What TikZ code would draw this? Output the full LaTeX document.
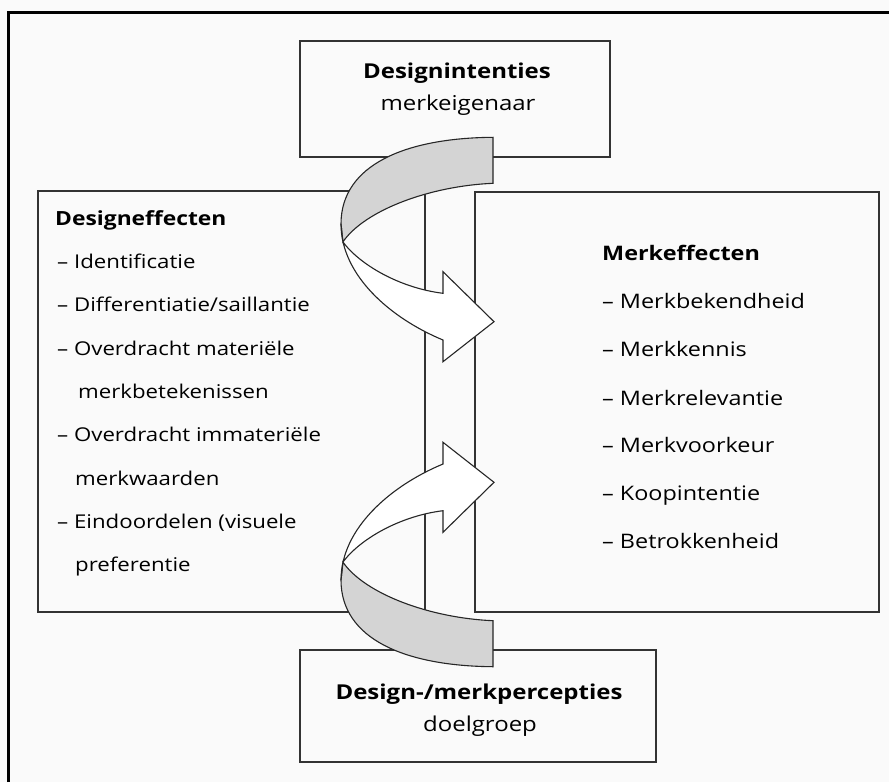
\documentclass[tikz,border=0pt]{standalone}
\usepackage{fontspec}
\setmainfont[FakeStretch=1.17]{Open Sans}

\tikzset{
  box/.style={draw=black!80, line width=1.4pt},
  txt/.style={inner sep=0pt, anchor=base west, font=\fontsize{19}{23}\selectfont},
  rtxt/.style={txt, font=\fontsize{20}{24}\selectfont},
  ctxt/.style={txt, anchor=base, font=\fontsize{20.5}{24}\selectfont},
  head/.style={txt, font=\fontsize{19.5}{23}\selectfont\bfseries},
  rhead/.style={txt, font=\fontsize{20}{24}\selectfont\bfseries},
  chead/.style={ctxt, font=\fontsize{20.5}{24}\selectfont\bfseries},
  ribbonback/.style={draw=black!85, line width=1.1pt, fill=black!17},
  ribbonfront/.style={draw=black!85, line width=1.1pt, fill=white},
  pics/bendarrow/.style={code={
    % back of the ribbon
    \draw[ribbonback] (0,-264.7) .. controls (-88,-264) and (-152,-237) .. (-152,-178)
      -- (-150.1,-160.1) .. controls (-128,-192) and (-63,-216) .. (0,-218.7) -- cycle;
    % front with the head
    \draw[ribbonfront] (-152,-178) .. controls (-152,-127) and (-103,-84) .. (-50,-62)
      -- (-50,-40.3) -- (1,-80.3) -- (-50,-130.3) -- (-50,-108.7)
      .. controls (-93,-114) and (-133,-137) .. (-150.1,-160.1) -- cycle;
  }}
}

\begin{document}
\begin{tikzpicture}[x=1pt, y=-1pt]
    \useasboundingbox[fill=black!2] (0,0) rectangle (889,782);
    \draw[line width=3pt] (8,782) -- (8,12) -- (889,12);

    % boxes
    \draw[box] (300,41) rectangle (610,157);
    \draw[box] (38,191) rectangle (425,612);
    \draw[box] (475,192) rectangle (879,612);
    \draw[box] (300,650) rectangle (656,762);

    % top
    \node[chead] (intent) at (457,78) {Designintenties};
    \node[ctxt] (owner) at (458,110) {merkeigenaar};

    % design effects
    \node[head] (deff) at (55,225) {Designeffecten};
    \node[txt] (d1) at (57,268.3) {– Identificatie};
    \node[txt] (d2) at (57,311.7) {– Differentiatie/saillantie};
    \node[txt] (d3) at (57,355) {– Overdracht materiële};
    \node[txt] (d3b) at (78,398.3) {merkbetekenissen};
    \node[txt] (d4) at (57,441.7) {– Overdracht immateriële};
    \node[txt] (d4b) at (75,485) {merkwaarden};
    \node[txt] (d5) at (57,528.3) {– Eindoordelen (visuele};
    \node[txt] (d5b) at (75,571.7) {preferentie};

    % brand effects
    \node[rhead] (meff) at (602,260) {Merkeffecten};
    \node[rtxt] (m1) at (602,308.3) {– Merkbekendheid};
    \node[rtxt] (m2) at (602,356.7) {– Merkkennis};
    \node[rtxt] (m3) at (602,405) {– Merkrelevantie};
    \node[rtxt] (m4) at (602,452) {– Merkvoorkeur};
    \node[rtxt] (m5) at (602,500) {– Koopintentie};
    \node[rtxt] (m6) at (602,548.3) {– Betrokkenheid};

    % bottom
    \node[chead] (percep) at (479,699) {Design-/merkpercepties};
    \node[ctxt] (group) at (480,731.7) {doelgroep};

    % curved arrows
    \pic at (493,402) {bendarrow};
    \pic[yscale=-1] at (493,402) {bendarrow};
\end{tikzpicture}
\end{document}
